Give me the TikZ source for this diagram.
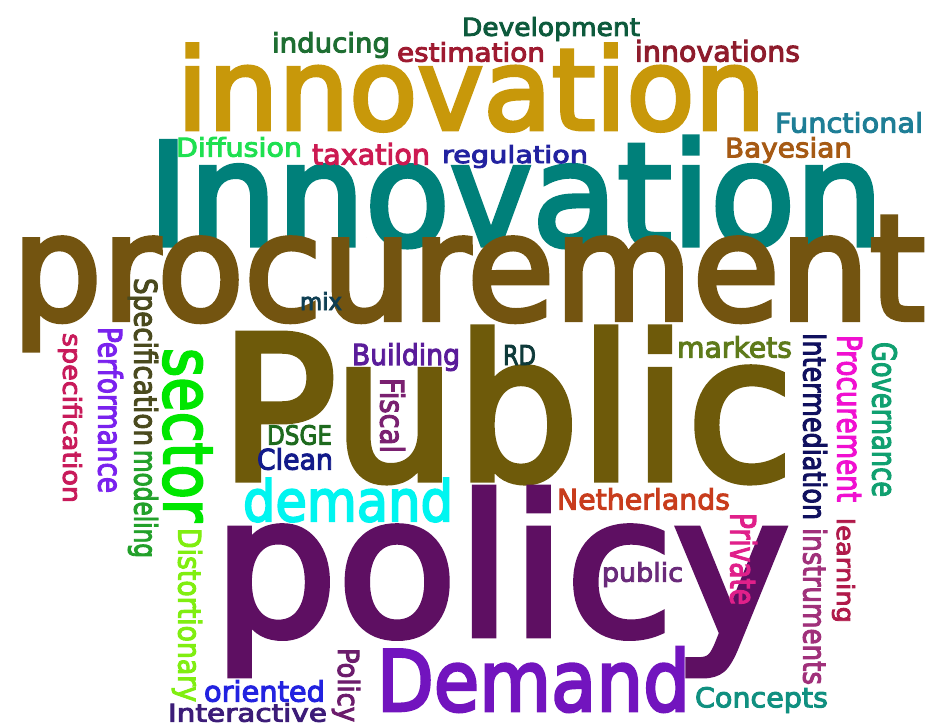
\documentclass[tikz,border=0pt]{standalone}
\usepackage{fontspec}
\setmainfont{DejaVu Sans}
\newfontfamily\cloudfont{DejaVu Sans}[FakeBold=3.5]
\usepackage{graphicx}
\newcommand{\fitword}[3]{\resizebox*{#1pt}{#2pt}{#3}}

\definecolor{goldw}{HTML}{C8980A}
\definecolor{tealw}{HTML}{00807A}
\definecolor{brownw}{HTML}{735410}
\definecolor{olivew}{HTML}{6E5A0A}
\definecolor{plumw}{HTML}{5E0F62}
\definecolor{violetw}{HTML}{7214BE}
\definecolor{cyanw}{HTML}{00F5F0}
\definecolor{greenw}{HTML}{00E600}
\definecolor{devgreen}{HTML}{0D5A3C}
\definecolor{indgreen}{HTML}{1E6E32}
\definecolor{estred}{HTML}{9E1A30}
\definecolor{innred}{HTML}{8E1C2C}
\definecolor{functeal}{HTML}{1E7E96}
\definecolor{bayorange}{HTML}{A65A14}
\definecolor{diffgreen}{HTML}{1EE050}
\definecolor{taxpink}{HTML}{CC1A52}
\definecolor{regblue}{HTML}{2222A0}
\definecolor{mixteal}{HTML}{0E3E52}
\definecolor{specolive}{HTML}{4A4A1E}
\definecolor{modgreen}{HTML}{22A02A}
\definecolor{perfviolet}{HTML}{7A22EE}
\definecolor{specpink}{HTML}{C81A5A}
\definecolor{distgreen}{HTML}{80EE10}
\definecolor{orblue}{HTML}{2222E0}
\definecolor{interpurple}{HTML}{3C1C78}
\definecolor{polpurple}{HTML}{6C1C6C}
\definecolor{buildpurple}{HTML}{5A1C9A}
\definecolor{rdteal}{HTML}{0E3A3A}
\definecolor{fiscalpurple}{HTML}{7A2070}
\definecolor{dsgegreen}{HTML}{1E6A1E}
\definecolor{cleanblue}{HTML}{121A8A}
\definecolor{mktgreen}{HTML}{5E7A1A}
\definecolor{intnavy}{HTML}{10105E}
\definecolor{instmag}{HTML}{A0307A}
\definecolor{procmag}{HTML}{F010D0}
\definecolor{learncrim}{HTML}{B01A4A}
\definecolor{govgreen}{HTML}{10A070}
\definecolor{nethorange}{HTML}{C83C1C}
\definecolor{privpink}{HTML}{E0208A}
\definecolor{pubpurple}{HTML}{6A2A7A}
\definecolor{conteal}{HTML}{109080}

\begin{document}
\begin{tikzpicture}[x=1pt, y=-1pt, main/.style = {inner sep=0pt, font=\cloudfont}, vert/.style={main, rotate=-90}]
\fill[white] (0,0) rectangle (928,724);
\useasboundingbox (0,0) rectangle (928,724);

% big words
\node[main, text=goldw] (1) at (471,87.5) {\fitword{588}{87}{innovation}};
\node[main, text=tealw] (2) at (515.5,192) {\fitword{735}{110}{Innovation}};
\node[main, text=brownw] (3) at (468.5,283.5) {\fitword{913}{133}{procurement}};
\node[main, text=olivew] (4) at (506.5,405) {\fitword{573}{154}{Public}};
\node[main, text=plumw] (5) at (501,581.5) {\fitword{576}{187}{policy}};
\node[main, text=violetw] (6) at (533.5,679.5) {\fitword{313}{65}{Demand}};
\node[main, text=cyanw] (7) at (348,500) {\fitword{210}{44}{demand}};
\node[vert, text=greenw] (8) at (187.5,435) {\fitword{174}{49}{sector}};

% small words, horizontal
\node[main, text=devgreen] (9) at (551,29) {\fitword{178}{24}{Development}};
\node[main, text=indgreen] (10) at (331,45) {\fitword{118}{26}{inducing}};
\node[main, text=estred] (11) at (471,52) {\fitword{148}{20}{estimation}};
\node[main, text=innred] (12) at (717.5,51) {\fitword{165}{22}{innovations}};
\node[main, text=functeal] (13) at (849,122.5) {\fitword{148}{21}{Functional}};
\node[main, text=bayorange] (14) at (788.5,150) {\fitword{127}{26}{Bayesian}};
\node[main, text=diffgreen] (15) at (239,147) {\fitword{126}{20}{Diffusion}};
\node[main, text=taxpink] (16) at (371,154) {\fitword{118}{22}{taxation}};
\node[main, text=regblue] (17) at (515,156.5) {\fitword{146}{23}{regulation}};
\node[main, text=mixteal] (18) at (321,301) {\fitword{42}{18}{mix}};
\node[main, text=buildpurple] (19) at (406,357) {\fitword{108}{28}{Building}};
\node[main, text=rdteal] (20) at (519.5,355) {\fitword{33}{20}{RD}};
\node[main, text=dsgegreen] (21) at (299.5,435) {\fitword{65}{20}{DSGE}};
\node[main, text=cleanblue] (22) at (295,459) {\fitword{76}{22}{Clean}};
\node[main, text=mktgreen] (23) at (734.5,347) {\fitword{115}{22}{markets}};
\node[main, text=nethorange] (24) at (643.5,499) {\fitword{173}{22}{Netherlands}};
\node[main, text=pubpurple] (25) at (642.5,574.5) {\fitword{81}{25}{public}};
\node[main, text=conteal] (26) at (761.5,700) {\fitword{133}{26}{Concepts}};
\node[main, text=orblue] (27) at (264.5,691) {\fitword{121}{22}{oriented}};
\node[main, text=interpurple] (28) at (247.5,712.5) {\fitword{159}{19}{Interactive}};

% small words, vertical
\node[vert, text=specolive] (29) at (143,362) {\fitword{168}{30}{Specification}};
\node[vert, text=modgreen] (30) at (143,504) {\fitword{108}{30}{modeling}};
\node[vert, text=perfviolet] (31) at (110.5,410) {\fitword{166}{25}{Performance}};
\node[vert, text=specpink] (32) at (70,418) {\fitword{170}{24}{specification}};
\node[vert, text=distgreen] (33) at (187,615) {\fitword{174}{30}{Distortionary}};
\node[vert, text=polpurple] (34) at (346,685) {\fitword{74}{28}{Policy}};
\node[vert, text=fiscalpurple] (35) at (392.5,415.5) {\fitword{75}{25}{Fiscal}};
\node[vert, text=intnavy] (36) at (815,426.5) {\fitword{187}{24}{Intermediation}};
\node[vert, text=instmag] (37) at (815,606.5) {\fitword{157}{24}{instruments}};
\node[vert, text=procmag] (38) at (849.5,418.5) {\fitword{167}{25}{Procurement}};
\node[vert, text=learncrim] (39) at (843.5,570.5) {\fitword{105}{23}{learning}};
\node[vert, text=govgreen] (40) at (884.5,419.5) {\fitword{155}{25}{Governance}};
\node[vert, text=privpink] (41) at (743.5,559) {\fitword{92}{27}{Private}};
\end{tikzpicture}
\end{document}
